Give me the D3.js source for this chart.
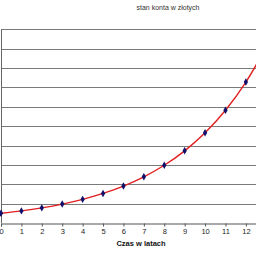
<!DOCTYPE html>
<html><head><meta charset="utf-8">
<script src="https://cdn.jsdelivr.net/npm/d3@7"></script>
<style>html,body{margin:0;padding:0;background:#fff;overflow:hidden}svg{display:block}</style>
</head><body>
<script>
const years = [0,1,2,3,4,5,6,7,8,9,10,11,12,13];
const balance = [500, 625, 781.25, 976.56, 1220.70, 1525.88, 1907.35, 2384.19, 2980.23, 3725.29, 4656.61, 5820.77, 7275.96, 9094.95];
const yTicks = [0,1000,2000,3000,4000,5000,6000,7000,8000,9000,10000];
const xTicks = [0,1,2,3,4,5,6,7,8,9,10,11,12];
const chartTitle = "stan konta w złotych";
const xTitle = "Czas w latach";

const W = 256, H = 256;
const svg = d3.select("body").append("svg").attr("width", W).attr("height", H);
const x = d3.scaleLinear().domain([0, 13]).range([1, 266.3]);
const y = d3.scaleLinear().domain([0, 10000]).range([223, 29.3]);

// gridlines
svg.append("g").selectAll("line").data(yTicks.slice(1)).join("line")
  .attr("x1", 1).attr("x2", W)
  .attr("y1", d => Math.round(y(d)) + 0.5).attr("y2", d => Math.round(y(d)) + 0.5)
  .attr("stroke", "#7a7a7a").attr("stroke-width", 1);

// x axis
const xa = svg.append("g").attr("transform", `translate(0,${Math.round(y(0)) + 0.5})`)
  .call(d3.axisBottom(x).tickValues(xTicks).tickSize(3).tickPadding(2).tickFormat(d3.format("d")));
xa.select(".domain").attr("stroke", "#555");
xa.selectAll(".tick line").attr("stroke", "#555");
xa.selectAll("text").attr("font-family", "Liberation Sans, Arial, sans-serif").attr("font-size", 7.5).attr("fill", "#222");

// y axis line
svg.append("line").attr("x1", 1.5).attr("x2", 1.5).attr("y1", y(10000)).attr("y2", y(0))
  .attr("stroke", "#666").attr("stroke-width", 1);

// curve
const line = d3.line().x((d, i) => x(years[i])).y(d => y(d)).curve(d3.curveCatmullRom);
svg.append("path").datum(balance).attr("d", line)
  .attr("fill", "none").attr("stroke", "#e02020").attr("stroke-width", 1.4);

// markers
svg.append("g").selectAll("path").data(balance).join("path")
  .attr("d", d3.symbol().type(d3.symbolDiamond).size(16))
  .attr("transform", (d, i) => `translate(${x(years[i])},${y(d)})`)
  .attr("fill", "#10106a");

svg.append("text").attr("x", 168).attr("y", 10).attr("text-anchor", "middle")
  .attr("font-family", "Liberation Sans, Arial, sans-serif").attr("font-size", 7).attr("fill", "#333")
  .text(chartTitle);
svg.append("text").attr("x", 141).attr("y", 246).attr("text-anchor", "middle")
  .attr("font-family", "Liberation Sans, Arial, sans-serif").attr("font-size", 7.5).attr("font-weight", "bold").attr("fill", "#111")
  .text(xTitle);
</script>
</body></html>
